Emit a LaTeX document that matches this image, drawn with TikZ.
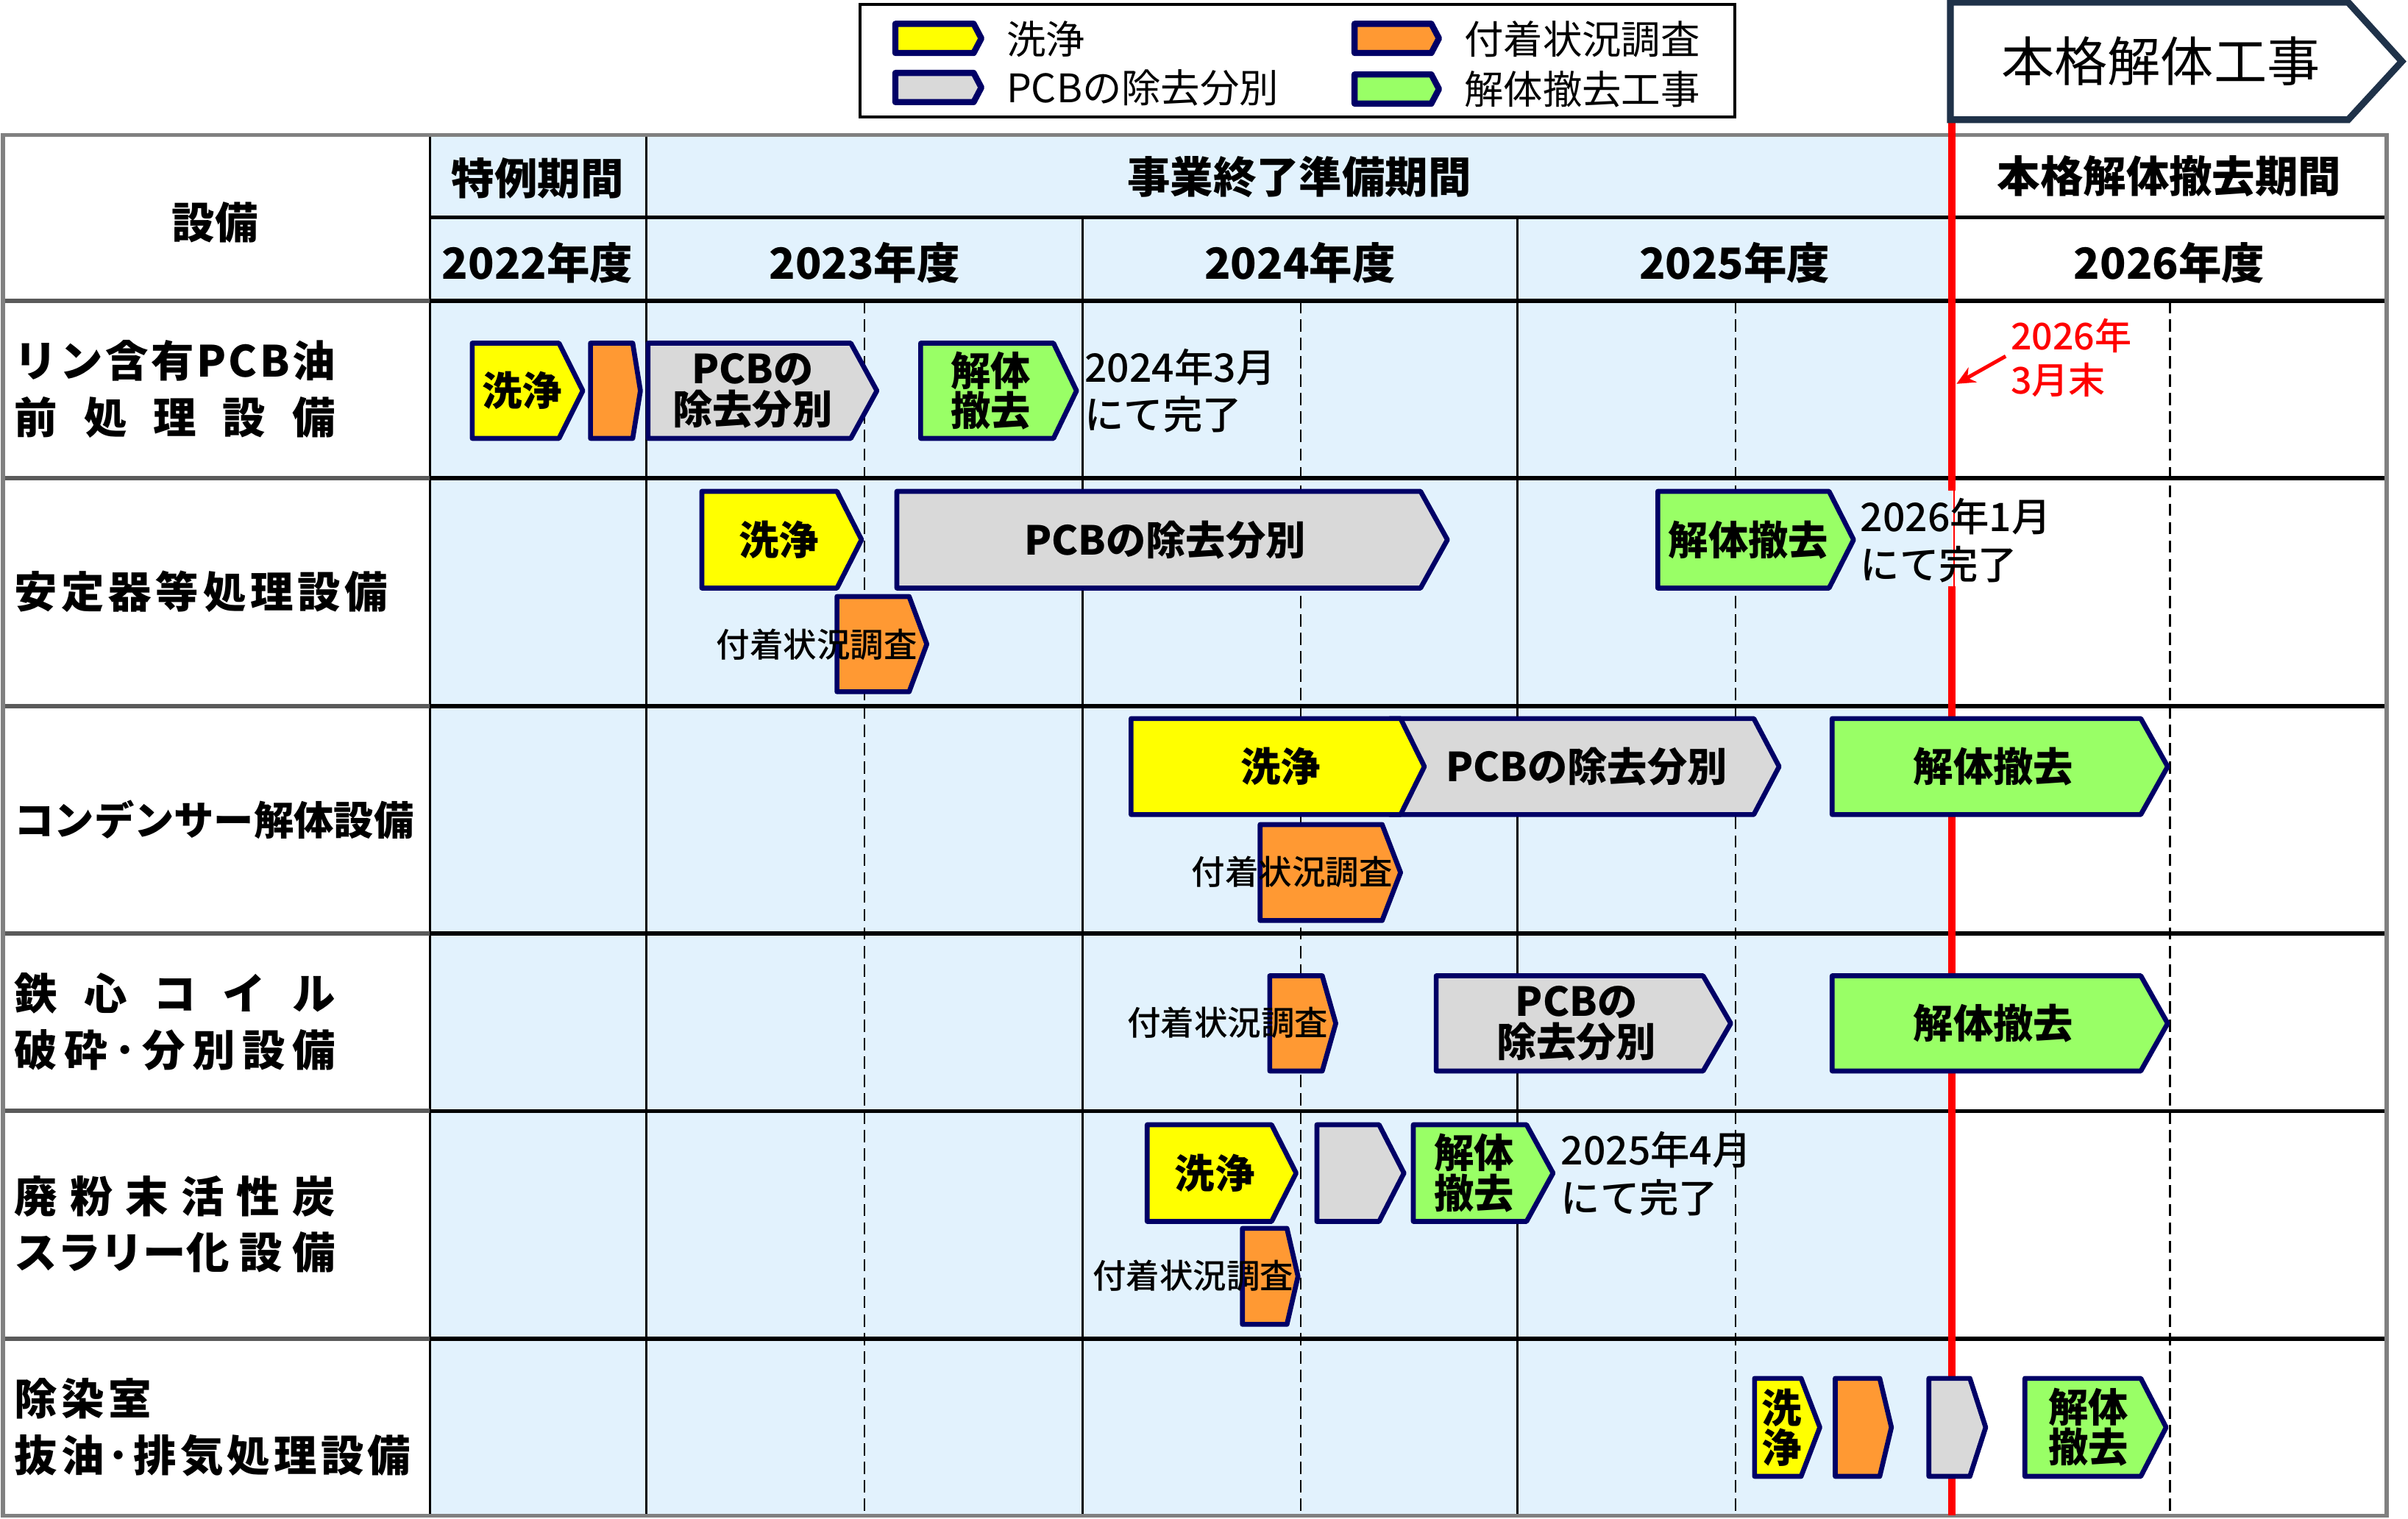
\documentclass[tikz,border=0pt]{standalone}
\usepackage{fontspec}
\setmainfont{Noto Sans CJK JP}
\IfFontExistsTF{Noto Sans CJK JP Medium}
  {\newfontfamily\medfont{Noto Sans CJK JP Medium}}
  {\newfontfamily\medfont{Noto Sans CJK JP Bold}}
\usetikzlibrary{arrows.meta}
\definecolor{navy}{HTML}{000066}
\definecolor{cyel}{HTML}{FFFF00}
\definecolor{corg}{HTML}{FF9933}
\definecolor{cgry}{HTML}{D9D9D9}
\definecolor{cgrn}{HTML}{99FF66}
\definecolor{lblue}{HTML}{E2F2FD}
\definecolor{slate}{HTML}{1F3249}
\definecolor{gridgray}{HTML}{808080}
\definecolor{labgray}{HTML}{5A5A5A}
\tikzset{
 chevline/.style={draw=navy, line width=1.6pt, line join=round},
 chevtext/.style={font=\fontsize{13}{13}\selectfont\bfseries, align=center, inner sep=0pt},
 hdr/.style={font=\fontsize{14}{14}\selectfont\bfseries, inner sep=0pt},
 rowlab/.style={font=\fontsize{14}{14}\selectfont\bfseries, inner sep=0pt, anchor=west},
 fuchaku/.style={font=\medfont\fontsize{10.9}{13}\selectfont, inner sep=0pt},
 note/.style={font=\medfont\fontsize{12.8}{15.5}\selectfont, inner sep=0pt, anchor=west, align=left},
 legtext/.style={font=\fontsize{12.8}{13}\selectfont, inner sep=0pt, anchor=west},
 hline/.style={line width=1.3pt, black},
 hlinel/.style={line width=1.5pt, labgray},
 vline/.style={line width=0.7pt, black},
 dline/.style={line width=0.6pt, black, dash pattern=on 4pt off 2pt},
}
% name, fill, x1, xflat, xtip, y1, y2, text x, text
\newcommand\chev[9]{%
  \draw[chevline,fill=#2] (#3,#6) -- (#4,#6) -- (#5,{(#6+#7)/2}) -- (#4,#7) -- (#3,#7) -- cycle;
  \node[chevtext] (#1) at (#8,{(#6+#7)/2}) {#9};}
\begin{document}
\begin{tikzpicture}[x=0.5pt,y=-0.5pt]
\useasboundingbox (0,0) rectangle (1568,989);
\fill[white] (0,0) rectangle (1568,989);
% backgrounds
\fill[lblue] (280,88) rectangle (1271,987);
% dashed mid-year lines
\foreach \x in {563,847,1130,1413} \draw[dline] (\x,196) -- (\x,987);
% vertical lines
\draw[vline] (280,88) -- (280,987);
\draw[vline] (421,88) -- (421,987);
\draw[vline] (705,141.5) -- (705,987);
\draw[vline] (988,141.5) -- (988,987);
% horizontal lines
\draw[hline] (280,141.5) -- (1554,141.5);
\foreach \y in {196,311.5,460,608,723.5,872} {
  \draw[hlinel] (2,\y) -- (280,\y);
  \draw[hline] (280,\y) -- (1554,\y);
}
% outer border
\draw[gridgray, line width=1.3pt] (2,88) rectangle (1554,987);
% header texts
\node[hdr] (hSetsubi) at (140,145) {設備};
\node[hdr] (hTokurei) at (350,116) {特例期間};
\node[hdr] (hJigyo) at (846,115) {事業終了準備期間};
\node[hdr] (hHonkaku) at (1412.5,115) {本格解体撤去期間};
\node[hdr] (y2022) at (350,171) {2022年度};
\node[hdr] (y2023) at (563,171) {2023年度};
\node[hdr] (y2024) at (846.5,171) {2024年度};
\node[hdr] (y2025) at (1129.5,171) {2025年度};
\node[hdr] (y2026) at (1412.5,171) {2026年度};
% row labels
\node[rowlab] (l1a) at (9,235) {\makebox[104.5pt][s]{リ\hfill ン\hfill 含\hfill 有\hfill P\hfill C\hfill B\hfill 油}};
\node[rowlab] (l1b) at (9,272) {\makebox[104.5pt][s]{前\hfill 処\hfill 理\hfill 設\hfill 備}};
\node[rowlab] (l2) at (9,385.5) {\makebox[121.5pt][s]{安\hfill 定\hfill 器\hfill 等\hfill 処\hfill 理\hfill 設\hfill 備}};
\node[rowlab, font=\fontsize{13}{13}\selectfont\bfseries] (l3) at (9,534) {コンデンサー解体設備};
\node[rowlab] (l4a) at (9,647) {\makebox[104.5pt][s]{鉄\hfill 心\hfill コ\hfill イ\hfill ル}};
\node[rowlab] (l4b) at (9,684) {\makebox[104.5pt][s]{破\hfill 砕\hfill ･\hfill 分\hfill 別\hfill 設\hfill 備}};
\node[rowlab] (l5a) at (9,779) {\makebox[104.5pt][s]{廃\hfill 粉\hfill 末\hfill 活\hfill 性\hfill 炭}};
\node[rowlab] (l5b) at (9,815.5) {\makebox[104.5pt][s]{スラリー化\hfill 設\hfill 備}};
\node[rowlab] (l6a) at (9,911) {\makebox[44.7pt][s]{除\hfill 染\hfill 室}};
\node[rowlab] (l6b) at (9,948) {\makebox[129pt][s]{抜\hfill 油\hfill ･\hfill 排\hfill 気\hfill 処\hfill 理\hfill 設\hfill 備}};
% red line
\draw[red, line width=2.2pt] (1271,79) -- (1271,319.5);
\draw[red, line width=0.5pt] (1272.3,319.5) -- (1272.3,382);
\draw[red, line width=2.2pt] (1271,382) -- (1271,987);
% row 1
\chev{c1a}{cyel}{307.5}{364}{379.5}{223.5}{285.5}{340}{洗浄}
\chev{c1b}{corg}{384.5}{412}{417}{223.5}{285.5}{398}{}
\chev{c1c}{cgry}{422}{554}{571}{223.5}{285.5}{490}{PCBの\\除去分別}
\chev{c1d}{cgrn}{599.5}{686}{701}{223.5}{285.5}{645}{解体\\撤去}
\node[note] (n1) at (706,254.5) {2024年3月\\にて完了};
% row 2
\chev{c2a}{cyel}{457}{545}{561}{320}{383}{507}{洗浄}
\chev{c2b}{cgry}{584}{925}{942.5}{320}{383}{758.5}{PCBの除去分別}
\chev{c2c}{corg}{545}{592}{603.5}{388.5}{450.5}{568}{}
\node[fuchaku] (f2) at (532,420) {付着状況調査};
\chev{c2d}{cgrn}{1079.5}{1191}{1207}{320}{383}{1138.5}{解体撤去}
\node[note] (n2) at (1211,352) {2026年1月\\にて完了};
% row 3
\chev{c3b}{cgry}{905}{1142}{1158.5}{468}{530.5}{1033}{PCBの除去分別}
\chev{c3a}{cyel}{736.5}{912}{927.5}{468}{530.5}{834}{洗浄}
\chev{c3c}{corg}{820.5}{900}{912}{537}{599.5}{860}{}
\node[fuchaku] (f3) at (841.4,568) {付着状況調査};
\chev{c3d}{cgrn}{1193}{1394}{1411.5}{468}{530.5}{1298}{解体撤去}
% row 4
\chev{c4a}{corg}{826.8}{861}{869.8}{635.5}{697.5}{845}{}
\node[fuchaku] (f4) at (799.5,666) {付着状況調査};
\chev{c4b}{cgry}{935.2}{1109}{1127}{635.5}{697.5}{1026.5}{PCBの\\除去分別}
\chev{c4c}{cgrn}{1193}{1394}{1411.5}{635.5}{697.5}{1298}{解体撤去}
% row 5
\chev{c5a}{cyel}{747}{828}{844}{732.5}{795.5}{791}{洗浄}
\chev{c5b}{cgry}{857.5}{898}{914.2}{732.5}{795.5}{880}{}
\chev{c5c}{cgrn}{920.3}{994}{1011.3}{732.5}{795.5}{960}{解体\\撤去}
\chev{c5d}{corg}{809}{838}{845.2}{800}{862.5}{825}{}
\node[fuchaku] (f5) at (777,831) {付着状況調査};
\node[note] (n5) at (1016,764.5) {2025年4月\\にて完了};
% row 6
\chev{c6a}{cyel}{1142.5}{1172.8}{1185}{897.7}{961.5}{1160}{洗\\浄}
\chev{c6b}{corg}{1195}{1224}{1231.6}{897.7}{961.5}{1210}{}
\chev{c6c}{cgry}{1256}{1282.7}{1293}{897.7}{961.5}{1270}{}
\chev{c6d}{cgrn}{1318.5}{1394}{1410.5}{897.7}{961.5}{1360}{解体\\撤去}
% red annotation
\node[font=\medfont\fontsize{12}{14.5}\selectfont, text=red, inner sep=0pt, anchor=west, align=left] (redtxt) at (1309,233) {2026年\\3月末};
\coordinate (arrS) at (1306,232);
\coordinate (arrE) at (1274,250);
\draw[red, line width=1.2pt, -{Stealth[length=6pt,width=5.5pt]}] (arrS) -- (arrE);
% legend
\draw[black, line width=1pt] (560,3) rectangle (1129.5,76);
\begin{scope}[chevline/.style={draw=navy, line width=2pt, line join=round}]
\chev{lgY}{cyel}{583}{634}{639}{15.5}{34.5}{610}{}
\chev{lgG}{cgry}{583}{634}{639}{47.5}{66.5}{610}{}
\chev{lgO}{corg}{882}{932}{937}{15.5}{34.5}{908}{}
\chev{lgN}{cgrn}{882}{932}{937}{48.5}{67.5}{908}{}
\end{scope}
\node[legtext] (lt1) at (655,25.5) {洗浄};
\node[legtext] (lt2) at (655,57) {PCBの除去分別};
\node[legtext] (lt3) at (953,25.5) {付着状況調査};
\node[legtext] (lt4) at (953,58) {解体撤去工事};
% top banner
\draw[slate, line width=2.2pt, fill=white, line join=miter] (1270,1.5) -- (1529,1.5) -- (1564,40) -- (1529,78) -- (1270,78) -- cycle;
\node[font=\fontsize{17.3}{18}\selectfont, inner sep=0pt] (banner) at (1407,40) {本格解体工事};
\end{tikzpicture}
\end{document}
